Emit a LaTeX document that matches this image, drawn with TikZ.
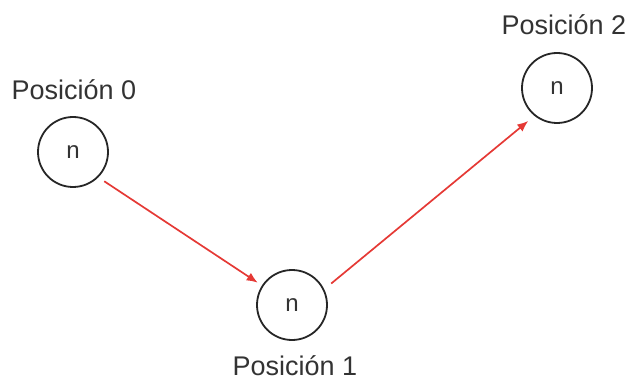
\documentclass[tikz,border=0pt]{standalone}
\usepackage{fontspec}
\setmainfont{Liberation Sans}
\usepackage{xcolor}
\usetikzlibrary{arrows.meta,calc,positioning}
\definecolor{linkred}{HTML}{E53935}
\definecolor{labelgray}{HTML}{333333}
\tikzset{
  posnode/.style={circle, draw=black!85, line width=1.8pt, minimum size=70pt, inner sep=0pt, font=\fontsize{24}{24}\selectfont, text=labelgray},
  poslabel/.style={font=\fontsize{27}{27}\selectfont, text=labelgray},
  link/.style={draw=linkred, line width=1.7pt, -{Latex[length=11pt,width=9pt]}}
}
\begin{document}
\begin{tikzpicture}[x=1pt,y=-1pt]
        \useasboundingbox (0,0) rectangle (626,382);
        \coordinate (c0) at (73,152);
        \coordinate (c1) at (292,305);
        \coordinate (c2) at (557,88);
        %Draw positions
        \node[posnode] (p0) at (c0) {n};
        \node[posnode] (p1) at (c1) {n};
        \node[posnode] (p2) at (c2) {n};
        %Draw labels
        \node[poslabel] (l0) at (74,90) {Posición 0};
        \node[poslabel] (l1) at (295,366) {Posición 1};
        \node[poslabel] (l2) at (564,25) {Posición 2};
        %Draw moves
        \draw[link, shorten <=7pt, shorten >=5pt] (p0.-45) -- (p1.147);
        \draw[link, shorten <=9pt, shorten >=8pt] (p1.26) -- (p2.231);
      \end{tikzpicture}
\end{document}
